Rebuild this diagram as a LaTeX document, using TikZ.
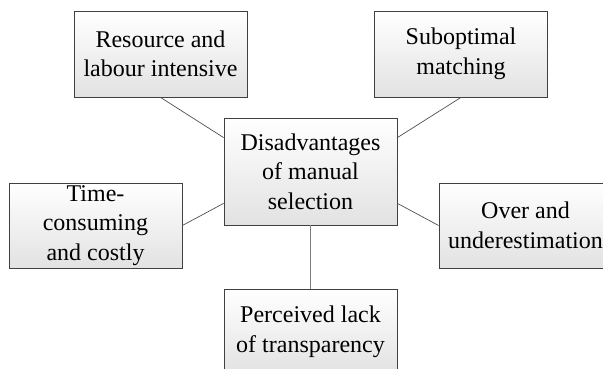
\documentclass[tikz,border=0pt]{standalone}
\usepackage{fontspec}
\setmainfont{Liberation Serif}
\newfontfamily\tnr{Liberation Serif}
\usetikzlibrary{calc}
\definecolor{boxborder}{HTML}{404040}
\definecolor{boxbottom}{HTML}{E2E2E2}
\definecolor{linkgray}{HTML}{505050}
\tikzset{
  box/.style={draw=boxborder, line width=0.8pt, top color=white, bottom color=boxbottom,
    minimum width=173pt, align=center, inner sep=2pt,
    font=\tnr\fontsize{24}{29.5}\selectfont},
  link/.style={draw=linkgray, line width=0.7pt}
}
\begin{document}
\begin{tikzpicture}[x=1pt,y=1pt]
\useasboundingbox (0,0) rectangle (603,369);
\clip (0,0) rectangle (603,369);
\node[box, minimum height=86pt] (res) at (160.5,315) {Resource and\\labour intensive};
\node[box, minimum height=86pt] (sub) at (461,315) {Suboptimal\\matching};
\node[box, minimum height=107pt] (c) at (310.5,197.5) {Disadvantages\\of manual\\selection};
\node[box, minimum height=85pt] (time) at (95.5,143.5) {Time-\\consuming\\and costly};
\node[box, minimum height=85pt] (over) at (525.5,143.5) {Over and\\underestimation};
\node[box, minimum height=86pt] (per) at (310.5,37) {Perceived lack\\of transparency};
\coordinate (cw1) at ($(c.north west)+(0,-20)$);
\coordinate (ce1) at ($(c.north east)+(0,-20)$);
\coordinate (cw2) at ($(c.south west)+(0,22)$);
\coordinate (ce2) at ($(c.south east)+(0,22)$);
\draw[link] (res.south) -- (cw1);
\draw[link] (sub.south) -- (ce1);
\draw[link] (time.east) -- (cw2);
\draw[link] (ce2) -- (over.west);
\draw[draw=gray, line width=1.2pt] (c.south) -- (per.north);
\end{tikzpicture}
\end{document}
